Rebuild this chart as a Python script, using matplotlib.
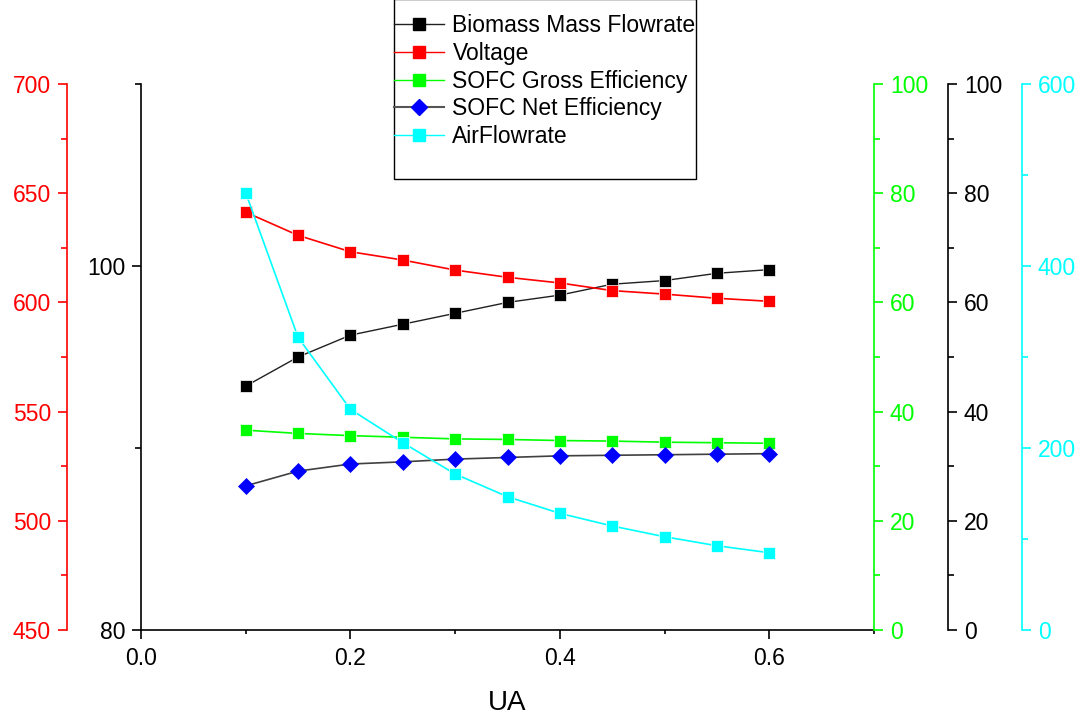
import matplotlib
matplotlib.use("Agg")
import matplotlib.pyplot as plt
from matplotlib.lines import Line2D
from matplotlib.patches import Rectangle
from matplotlib.ticker import MultipleLocator, FormatStrFormatter

plt.rcParams["font.family"] = ["Liberation Sans", "DejaVu Sans"]

ua = [0.10, 0.15, 0.20, 0.25, 0.30, 0.35, 0.40, 0.45, 0.50, 0.55, 0.60]
biomass_flow = [93.4, 95.0, 96.2, 96.8, 97.4, 98.0, 98.4, 99.0, 99.2, 99.6, 99.8]
voltage = [641.3, 630.7, 623.2, 619.4, 614.8, 611.5, 608.9, 605.4, 603.8, 601.9, 600.5]
gross_eff = [36.6, 36.0, 35.6, 35.3, 35.0, 34.9, 34.7, 34.6, 34.4, 34.3, 34.2]
net_eff = [26.4, 29.1, 30.4, 30.8, 31.3, 31.6, 31.9, 32.0, 32.1, 32.2, 32.3]
air_flow = [480.5, 321.6, 242.5, 205.8, 171.4, 146.5, 128.2, 114.3, 102.5, 92.6, 84.9]

RED = "#ff0000"
GREEN = "#00ff00"
CYAN = "#00ffff"
BLUE = "#0000ff"
FS = 16.5
W, H = 1086, 718
OFF = 74 * 72 / 100  # 74 px outward at dpi 100


def style_axis(a, side, color, lo, hi, major, minor, offset=0):
    for s in ("top", "left", "right", "bottom"):
        a.spines[s].set_visible(False)
    a.spines[side].set_visible(True)
    a.spines[side].set_color(color)
    a.spines[side].set_linewidth(1.2)
    a.spines[side].set_position(("outward", offset))
    a.yaxis.set_ticks_position(side)
    a.yaxis.set_label_position(side)
    a.set_ylim(lo, hi)
    a.yaxis.set_major_locator(MultipleLocator(major))
    a.yaxis.set_minor_locator(MultipleLocator(minor))
    a.tick_params(axis="y", which="major", direction="out", length=6.5, width=1.2,
                  color=color, labelcolor=color, labelsize=FS, pad=5)
    a.tick_params(axis="y", which="minor", direction="out", length=4, width=1.2, color=color)


fig = plt.figure(figsize=(W / 100, H / 100), dpi=100)
ax = fig.add_axes([141 / W, 1 - 630 / H, (874 - 141) / W, (630 - 84) / H])

# main axis: biomass flowrate (left, black)
style_axis(ax, "left", "black", 80, 110, 20, 10)
ax.spines["bottom"].set_visible(True)
ax.spines["bottom"].set_linewidth(1.2)
ax.set_xlim(0, 0.7)
ax.xaxis.set_major_locator(MultipleLocator(0.2))
ax.xaxis.set_minor_locator(MultipleLocator(0.1))
ax.xaxis.set_major_formatter(FormatStrFormatter("%.1f"))
ax.tick_params(axis="x", which="major", direction="out", length=6.5, width=1.2, labelsize=FS, pad=6)
ax.tick_params(axis="x", which="minor", direction="out", length=3, width=1.2)
ax.set_xlabel("UA", fontsize=20, labelpad=14)
ax.plot(ua, biomass_flow, color="#202020", lw=1, marker="s", ms=8.5, mfc="black", mec="white", mew=0.5)

ax_v = ax.twinx()
style_axis(ax_v, "left", RED, 450, 700, 50, 25, OFF)
ax_v.plot(ua, voltage, color=RED, lw=1.2, marker="s", ms=8.5, mfc=RED, mec="white", mew=0.5)

ax_g = ax.twinx()
style_axis(ax_g, "right", GREEN, 0, 100, 20, 10)
ax_g.plot(ua, gross_eff, color=GREEN, lw=1.2, marker="s", ms=8.5, mfc=GREEN, mec="white", mew=0.5)

ax_n = ax.twinx()
style_axis(ax_n, "right", "black", 0, 100, 20, 10, OFF)
ax_n.plot(ua, net_eff, color="#404040", lw=1.2, marker="D", ms=8, mfc=BLUE, mec=BLUE, mew=0.5)

ax_a = ax.twinx()
style_axis(ax_a, "right", CYAN, 0, 600, 200, 100, 2 * OFF)
ax_a.plot(ua, air_flow, color=CYAN, lw=1.2, marker="s", ms=8.5, mfc=CYAN, mec="white", mew=0.5)

# legend box, Origin style (handles touch the left edge, empty space below)
handles = [
    Line2D([], [], color="#202020", lw=1, marker="s", ms=8.5, mfc="black", mec="black"),
    Line2D([], [], color=RED, lw=1, marker="s", ms=8.5, mfc=RED, mec=RED),
    Line2D([], [], color=GREEN, lw=1, marker="s", ms=8.5, mfc=GREEN, mec=GREEN),
    Line2D([], [], color="#555555", lw=1.5, marker="D", ms=8, mfc=BLUE, mec=BLUE),
    Line2D([], [], color=CYAN, lw=1, marker="s", ms=8.5, mfc=CYAN, mec=CYAN),
]
labels = ["Biomass Mass Flowrate", "Voltage", "SOFC Gross Efficiency",
          "SOFC Net Efficiency", "AirFlowrate"]
fig.legend(handles, labels, loc="upper left", bbox_to_anchor=(394 / W, 1 - 14 / H),
           fontsize=FS, frameon=False, borderpad=0, borderaxespad=0,
           handlelength=2.2, handletextpad=0.35, labelspacing=0.21)
fig.patches.append(Rectangle((394 / W, 1 - 179 / H), (696 - 394) / W, 180 / H,
                             transform=fig.transFigure, fill=False, edgecolor="black",
                             lw=1.0, zorder=5))

fig.savefig("out.png", dpi=100)
